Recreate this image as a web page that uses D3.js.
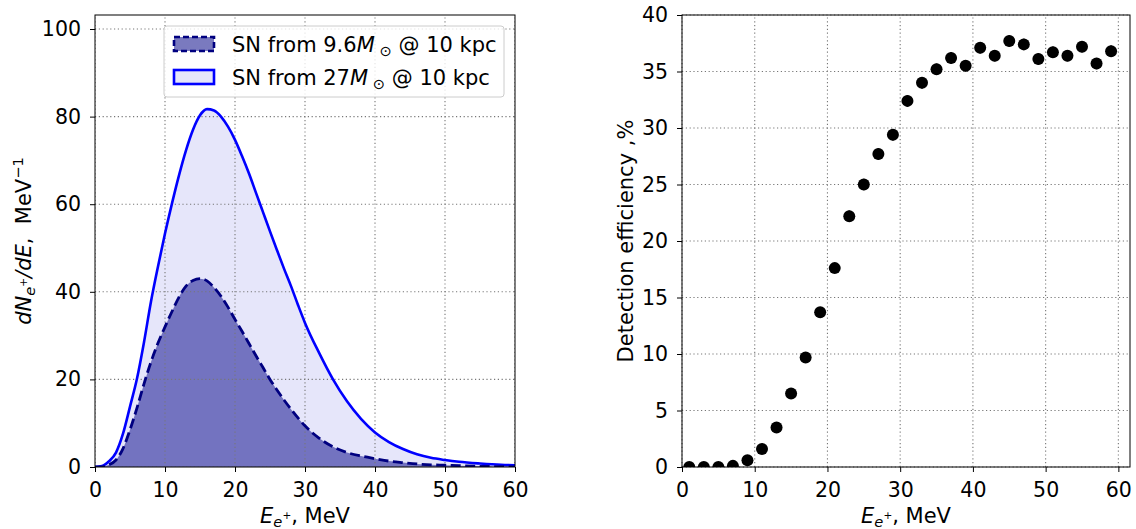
<!DOCTYPE html>
<html><head><meta charset="utf-8">
<script src="https://cdn.jsdelivr.net/npm/d3@7/dist/d3.min.js"></script>
<style>
body{margin:0;background:#fff}
svg{display:block}
text{font-family:"DejaVu Sans",sans-serif;fill:#000}
</style>
</head><body>
<svg id="chart" width="1136" height="529"></svg>
<script>
// ---------- data (left panel) ----------
const energy = [0,1,2,3,4,5,6,7,8,9,10,11,12,13,14,15,16,17,18,19,20,21,22,23,24,25,26,27,28,29,30,32,34,36,38,40,42,44,46,48,50,52,55,58,60];
const spectrum27 = [0,0.2,1.3,3.3,7.6,13.8,20.2,28.5,37.8,45.8,53.3,60.2,66.6,72.3,77,80.3,81.7,81.4,80,77.7,74.7,71,67,62.6,58.2,53.8,49.5,45.3,41.3,37,32.9,26.1,20,15,11,7.9,5.7,4.1,2.9,2.1,1.6,1.2,0.8,0.5,0.4];
const spectrum96 = [0,0.05,0.5,1.6,4.2,8.5,13.5,19,24,28.3,32,35.5,38.8,41.3,42.6,43,42.5,41,39,36.5,33.7,31,28.2,25.4,22.7,20,17.6,15.3,13.2,11.2,9.4,6.6,4.6,3.3,2.5,1.9,1.35,1.0,0.7,0.5,0.4,0.3,0.15,0.08,0.05];
const leftXTicks = [0,10,20,30,40,50,60];
const leftYTicks = [0,20,40,60,80,100];
const legendLabels = ["9.6", "27"];

// ---------- data (right panel) ----------
const effEnergy = [1,3,5,7,9,11,13,15,17,19,21,23,25,27,29,31,33,35,37,39,41,43,45,47,49,51,53,55,57,59];
const efficiency = [0,0,0,0.1,0.6,1.6,3.5,6.5,9.7,13.7,17.6,22.2,25.0,27.7,29.4,32.4,34.0,35.2,36.2,35.5,37.1,36.4,37.7,37.4,36.1,36.7,36.4,37.2,35.7,36.8];
const effError = [0.1,0.1,0.1,0.1,0.2,0.3,0.3,0.4,0.4,0.4,0.4,0.5,0.5,0.5,0.5,0.5,0.5,0.5,0.5,0.5,0.5,0.5,0.5,0.5,0.5,0.5,0.5,0.5,0.5,0.5];
const rightXTicks = [0,10,20,30,40,50,60];
const rightYTicks = [0,5,10,15,20,25,30,35,40];

const FT = 20.5;   // tick labels
const FL = 21;     // legend
const FA = 21;     // axis labels
const svg = d3.select("#chart");
const defs = svg.append("defs");

function clipFor(id, x, y) {
  const [x0, x1] = x.range(), [y0, y1] = y.range();
  defs.append("clipPath").attr("id", id).append("rect")
    .attr("x", x0).attr("y", y1).attr("width", x1 - x0).attr("height", y0 - y1);
  return `url(#${id})`;
}

function grid(g, x, y, xt, yt) {
  const [x0, x1] = x.range(), [y0, y1] = y.range();
  g.selectAll(".gx").data(xt).join("line")
    .attr("x1", d => x(d)).attr("x2", d => x(d)).attr("y1", y0).attr("y2", y1)
    .attr("stroke", "#777").attr("stroke-width", 1.1).attr("stroke-dasharray", "1.2,2.6");
  g.selectAll(".gy").data(yt).join("line")
    .attr("y1", d => y(d)).attr("y2", d => y(d)).attr("x1", x0).attr("x2", x1)
    .attr("stroke", "#777").attr("stroke-width", 1.1).attr("stroke-dasharray", "1.2,2.6");
}

function axes(g, x, y, xt, yt) {
  const [x0, x1] = x.range(), [y0, y1] = y.range();
  const ax = g.append("g").attr("transform", `translate(0,${y0})`)
    .call(d3.axisBottom(x).tickValues(xt).tickSize(5).tickPadding(10).tickFormat(d3.format("d")));
  const ay = g.append("g").attr("transform", `translate(${x0},0)`)
    .call(d3.axisLeft(y).tickValues(yt).tickSize(5).tickPadding(9).tickFormat(d3.format("d")));
  [ax, ay].forEach(a => {
    a.select(".domain").remove();
    a.selectAll(".tick line").attr("stroke", "#000").attr("stroke-width", 1);
    a.selectAll(".tick text").attr("font-size", FT).attr("font-family", "DejaVu Sans").attr("fill", "#000");
  });
  g.append("rect").attr("x", x0).attr("y", y1).attr("width", x1 - x0).attr("height", y0 - y1)
    .attr("fill", "none").attr("stroke", "#000").attr("stroke-width", 1);
}

function eLabel(t) {
  t.append("tspan").attr("font-style", "italic").text("E");
  t.append("tspan").attr("font-style", "italic").attr("font-size", FA * 0.7).attr("dy", 4).text("e");
  t.append("tspan").attr("font-size", FA * 0.5).attr("dy", -8).text("+");
  t.append("tspan").attr("dy", 4).text(", MeV");
}

// ================= LEFT PANEL =================
const xL = d3.scaleLinear().domain([0, 60]).range([95, 515]);
const yL = d3.scaleLinear().domain([0, 103.2]).range([467, 15]);
const gL = svg.append("g");
const clipL = clipFor("clipL", xL, yL);
const rows = energy.map((e, i) => ({e, a: spectrum27[i], b: spectrum96[i]}));

const areaA = d3.area().x(d => xL(d.e)).y0(yL(0)).y1(d => yL(d.a)).curve(d3.curveMonotoneX);
const areaB = d3.area().x(d => xL(d.e)).y0(yL(0)).y1(d => yL(d.b)).curve(d3.curveMonotoneX);
const lineA = d3.line().x(d => xL(d.e)).y(d => yL(d.a)).curve(d3.curveMonotoneX);
const lineB = d3.line().x(d => xL(d.e)).y(d => yL(d.b)).curve(d3.curveMonotoneX);

const plotL = gL.append("g").attr("clip-path", clipL);
plotL.append("path").datum(rows).attr("d", areaA).attr("fill", "#e6e6fa");
plotL.append("path").datum(rows).attr("d", areaB).attr("fill", "#7373c0");
grid(plotL.append("g"), xL, yL, leftXTicks, leftYTicks);
plotL.append("path").datum(rows).attr("d", lineA).attr("fill", "none").attr("stroke", "#0000ff").attr("stroke-width", 2.6);
plotL.append("path").datum(rows).attr("d", lineB).attr("fill", "none").attr("stroke", "#000080").attr("stroke-width", 2.8).attr("stroke-dasharray", "10,4.5");
axes(gL, xL, yL, leftXTicks, leftYTicks);

// legend
const lg = gL.append("g");
lg.append("rect").attr("x", 164).attr("y", 26).attr("width", 340).attr("height", 71).attr("rx", 3)
  .attr("fill", "#fff").attr("fill-opacity", 0.8).attr("stroke", "#ccc").attr("stroke-width", 1);
const legendItems = [
  {label: legendLabels[0], fill: "#7a7abf", stroke: "#000080", dash: "6,3"},
  {label: legendLabels[1], fill: "#e6e6fa", stroke: "#0000ff", dash: null}
];
legendItems.forEach((it, i) => {
  const cy = 44 + i * 33;
  lg.append("rect").attr("x", 174).attr("y", cy - 7).attr("width", 40).attr("height", 14)
    .attr("fill", it.fill).attr("stroke", it.stroke).attr("stroke-width", 2.6)
    .attr("stroke-dasharray", it.dash);
  const t = lg.append("text").attr("x", 232).attr("y", cy + 7.5).attr("font-size", FL);
  t.append("tspan").text("SN from " + it.label);
  t.append("tspan").attr("font-style", "italic").text("M");
  t.append("tspan").attr("font-size", FL * 0.7).attr("dy", 4).text("\u00a0⊙");
  t.append("tspan").attr("dy", -4).text(" @ 10 kpc");
});

// axis labels (left)
eLabel(gL.append("text").attr("x", 305).attr("y", 523).attr("text-anchor", "middle").attr("font-size", FA));

const ylabL = gL.append("text").attr("transform", "translate(31,241) rotate(-90)").attr("text-anchor", "middle").attr("font-size", FA);
ylabL.append("tspan").attr("font-style", "italic").text("dN");
ylabL.append("tspan").attr("font-style", "italic").attr("font-size", FA * 0.7).attr("dy", 4).text("e");
ylabL.append("tspan").attr("font-size", FA * 0.5).attr("dy", -8).text("+");
ylabL.append("tspan").attr("dy", 4).attr("font-style", "italic").text("/dE");
ylabL.append("tspan").text(",\u00a0\u00a0MeV");
ylabL.append("tspan").attr("font-size", FA * 0.7).attr("dy", -8).text("−1");

// ================= RIGHT PANEL =================
const xR = d3.scaleLinear().domain([0, 61.6]).range([682, 1130]);
const yR = d3.scaleLinear().domain([0, 40]).range([467, 15]);
const gR = svg.append("g");
const clipR = clipFor("clipR", xR, yR);
grid(gR.append("g"), xR, yR, rightXTicks, rightYTicks);
const plotR = gR.append("g").attr("clip-path", clipR);
const pts = effEnergy.map((e, i) => ({e, v: efficiency[i], err: effError[i]}));
plotR.selectAll(".err").data(pts).join("line")
  .attr("x1", d => xR(d.e)).attr("x2", d => xR(d.e))
  .attr("y1", d => yR(d.v - d.err)).attr("y2", d => yR(d.v + d.err))
  .attr("stroke", "#000").attr("stroke-width", 2);
plotR.selectAll(".pt").data(pts).join("circle")
  .attr("cx", d => xR(d.e)).attr("cy", d => yR(d.v)).attr("r", 6).attr("fill", "#000");
axes(gR, xR, yR, rightXTicks, rightYTicks);

eLabel(gR.append("text").attr("x", 906).attr("y", 523).attr("text-anchor", "middle").attr("font-size", FA));

gR.append("text").attr("transform", "translate(633,241) rotate(-90)").attr("text-anchor", "middle")
  .attr("font-size", FA).text("Detection efficiency ,%");
</script>
</body></html>
